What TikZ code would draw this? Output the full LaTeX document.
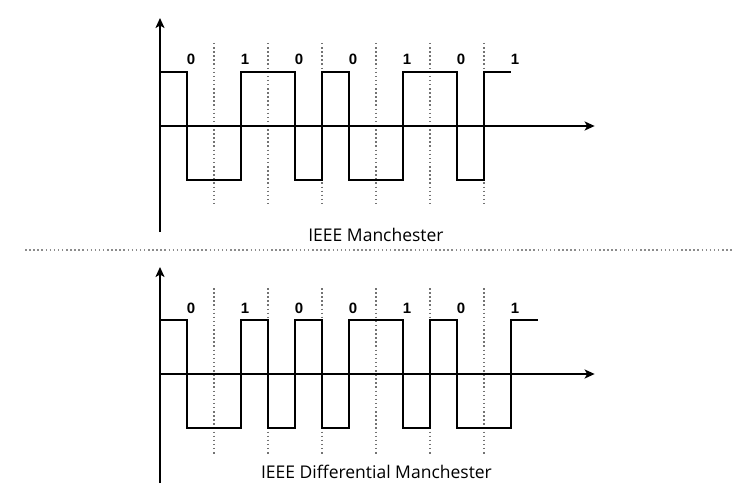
\documentclass[tikz,border=0pt]{standalone}
\usepackage{fontspec}
\setmainfont{Open Sans}
\newfontfamily\bitfont{Liberation Sans}
\usetikzlibrary{arrows.meta}

\begin{document}
\begin{tikzpicture}[x=1pt, y=-1pt,
  axis/.style={line width=2.2pt, -{Stealth[length=10pt,width=9pt,inset=2.5pt]}},
  sig/.style={line width=2.4pt, line join=miter},
  tick/.style={line width=1.5pt, black!55, dash pattern=on 1.5pt off 2.6pt},
  sep/.style={line width=1.5pt, black!45, dash pattern=on 1.5pt off 2.6pt},
  bit/.style={font=\bitfont\bfseries\fontsize{15}{15}\selectfont, inner sep=0pt},
  title/.style={font=\fontsize{17.5}{17.5}\selectfont, inner sep=0pt}
]
  \useasboundingbox (0,0) rectangle (755,500);

  % IEEE Manchester
  \begin{scope}[shift={(160,126)}, xscale=27]
    \coordinate (mO) at (0,0);
    \coordinate (mYlo) at (0,106);
    \coordinate (mYhi) at (0,-108);
    \coordinate (mX) at (16.1,0);
    \foreach \k in {2,4,...,12}
      \draw[tick] (\k,-83) -- (\k,81);
    \draw[axis] (mYlo) -- (mYhi);
    \draw[axis] (mO) -- (mX);
    \foreach \b [count=\i] in {0,1,0,0,1,0,1}
      \node[bit] (mbit\i) at (2*\i-1+0.15,-67) {\b};
    \draw[sig] (0,-54) -| (1,54) -| (3,-54) -| (5,54) -| (6,-54) -| (7,54)
      -| (9,-54) -| (11,54) -| (12,-54) -- (13,-54);
  \end{scope}
  \node[title] (mtitle) at (376,235) {IEEE Manchester};

  % Separator
  \coordinate (sepL) at (25,250);
  \coordinate (sepR) at (733,250);
  \draw[sep] (sepL) -- (sepR);

  % IEEE Differential Manchester
  \begin{scope}[shift={(160,374)}, xscale=27]
    \coordinate (dO) at (0,0);
    \coordinate (dYlo) at (0,109);
    \coordinate (dYhi) at (0,-107);
    \coordinate (dX) at (16.1,0);
    \foreach \k in {2,4,...,12}
      \draw[tick] (\k,-86) -- (\k,81);
    \draw[axis] (dYlo) -- (dYhi);
    \draw[axis] (dO) -- (dX);
    \foreach \b [count=\i] in {0,1,0,0,1,0,1}
      \node[bit] (dbit\i) at (2*\i-1+0.15,-66) {\b};
    \draw[sig] (0,-54) -| (1,54) -| (3,-54) -| (4,54) -| (5,-54) -| (6,54)
      -| (7,-54) -| (9,54) -| (10,-54) -| (11,54) -| (13,-54) -- (14,-54);
  \end{scope}
  \node[title] (dtitle) at (376.5,472) {IEEE Differential Manchester};
\end{tikzpicture}
\end{document}
